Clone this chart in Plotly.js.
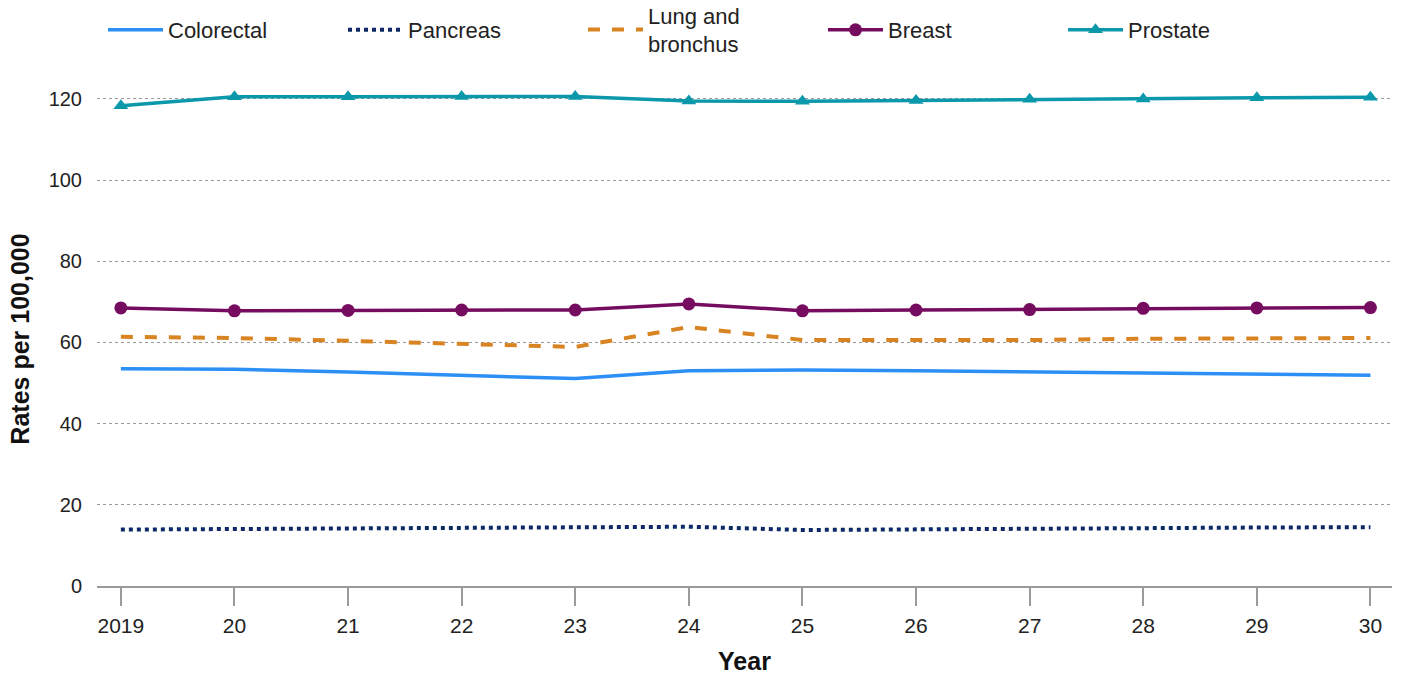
<!DOCTYPE html>
<html>
<head>
<meta charset="utf-8">
<script src="https://cdn.plot.ly/plotly-3.0.1.min.js"></script>
<style>html,body{margin:0;padding:0;background:#fff;}#chart{width:1403px;height:675px;}</style>
</head>
<body>
<div id="chart"></div>
<script>
const years = [2019, 2020, 2021, 2022, 2023, 2024, 2025, 2026, 2027, 2028, 2029, 2030];
const yearLabels = ["2019", "20", "21", "22", "23", "24", "25", "26", "27", "28", "29", "30"];
const colorectal = [53.5, 53.4, 52.7, 52.0, 51.1, 53.0, 53.2, 53.0, 52.7, 52.5, 52.2, 51.9];
const pancreas = [13.9, 14.0, 14.1, 14.2, 14.4, 14.6, 13.8, 14.0, 14.1, 14.2, 14.4, 14.5];
const lung = [61.4, 61.1, 60.4, 59.6, 58.9, 63.8, 60.6, 60.6, 60.6, 60.9, 61.0, 61.1];
const breast = [68.5, 67.8, 67.9, 68.0, 68.0, 69.5, 67.8, 68.0, 68.1, 68.4, 68.5, 68.6];
const prostate = [118.3, 120.5, 120.5, 120.6, 120.6, 119.5, 119.4, 119.6, 119.9, 120.0, 120.3, 120.4];
const yTicks = [0, 20, 40, 60, 80, 100, 120];

const font = "'Liberation Sans', Arial, Helvetica, sans-serif";

const traces = [
  {x: years, y: colorectal, name: "Colorectal", mode: "lines", cliponaxis: false, legend: "legend",
   line: {color: "#2b8ff6", width: 3.5}},
  {x: years, y: pancreas, name: "Pancreas", mode: "lines", cliponaxis: false, legend: "legend",
   line: {color: "#0d2a66", width: 4, dash: "dot"}},
  {x: years, y: lung, name: "Lung and<br>bronchus", mode: "lines", cliponaxis: false, legend: "legend2",
   line: {color: "#d88423", width: 4, dash: "dash"}},
  {x: years, y: breast, name: "Breast", mode: "lines+markers", cliponaxis: false, legend: "legend3",
   line: {color: "#760c5f", width: 3.5},
   marker: {symbol: "circle", size: 13, color: "#760c5f"}},
  {x: years, y: prostate, name: "Prostate", mode: "lines+markers", cliponaxis: false, legend: "legend3",
   line: {color: "#0a98aa", width: 3.5},
   marker: {symbol: "triangle-up", size: 13, color: "#0a98aa"}}
];

function legendAt(xpx) {
  return {
    orientation: "h", xref: "container", yref: "container",
    x: xpx / 1403, y: 1 - 30 / 675, xanchor: "left", yanchor: "middle",
    entrywidth: 170, entrywidthmode: "pixels",
    font: {family: font, size: 22, color: "#222"},
    bgcolor: "rgba(0,0,0,0)",
    itemwidth: 55, traceorder: "normal", tracegroupgap: 0
  };
}

const layout = {
  width: 1403, height: 675,
  margin: {l: 97, r: 11, t: 92, b: 89, autoexpand: false},
  paper_bgcolor: "#fff", plot_bgcolor: "#fff",
  font: {family: font, size: 20, color: "#222"},
  showlegend: true,
  legend: legendAt(103),
  legend2: legendAt(583),
  legend3: legendAt(823),
  xaxis: {
    range: [2018.79, 2030.19],
    tickvals: years, ticktext: yearLabels,
    showgrid: false, zeroline: false,
    showline: true, linecolor: "#9a9a9a", linewidth: 2,
    ticks: "outside", ticklen: 18, tickwidth: 2, tickcolor: "#9a9a9a",
    tickfont: {family: font, size: 21, color: "#222"},
    ticklabelstandoff: 2,
    title: {text: "<b>Year</b>", font: {family: font, size: 25, color: "#111"}, standoff: 18}
  },
  yaxis: {
    range: [0, 121.7],
    tickvals: yTicks,
    showgrid: true, gridcolor: "#9a9a9a", gridwidth: 1, griddash: "dot",
    zeroline: false, showline: false, ticks: "",
    ticklabelstandoff: 14,
    tickfont: {family: font, size: 20, color: "#222"},
    title: {text: "<b>Rates per 100,000</b>", font: {family: font, size: 25, color: "#111"}, standoff: 11}
  }
};

Plotly.newPlot("chart", traces, layout, {displayModeBar: false, responsive: false});
</script>
</body>
</html>
